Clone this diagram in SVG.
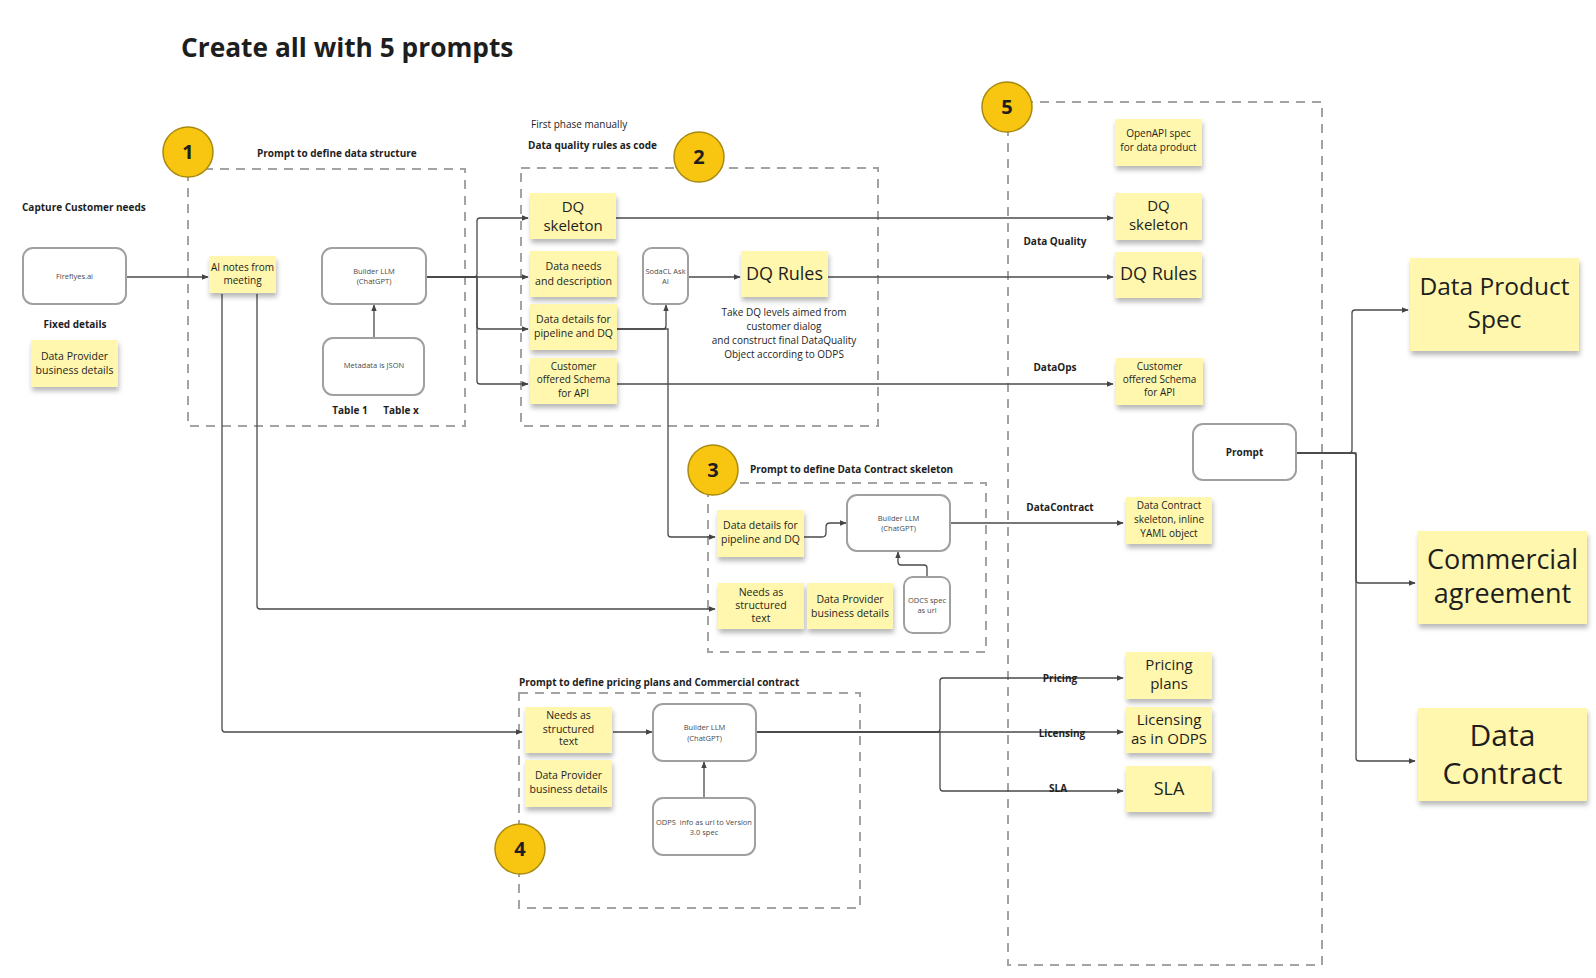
<svg xmlns="http://www.w3.org/2000/svg" width="1596" height="978" viewBox="0 0 1596 978">
<style>
text{font-family:"Open Sans","Liberation Sans",sans-serif;fill:#1e1e1e}
.b{font-weight:bold}
.t10{font-size:10px}
.t105{font-size:10.5px}
.t11{font-size:10.6px}
.t15{font-size:15px}
.t18{font-size:18px}
.sm{font-size:7.5px;fill:#4a4a4a}
.c{text-anchor:middle}
.sticky{fill:#FFF7AD;filter:url(#sh)}
.box{fill:#fff;stroke:#a0a0a0;stroke-width:2}
.dash{fill:none;stroke:#a3a3a3;stroke-width:2;stroke-dasharray:9 7}
.circ{fill:#F8C511;stroke:#A88A10;stroke-width:1.5}
.num{font-size:20px;font-weight:bold;text-anchor:middle}
.conn path{fill:none;stroke:#4a4a4a;stroke-width:1.3;marker-end:url(#ar)}
</style>
<defs>
<filter id="sh" x="-10%" y="-10%" width="120%" height="140%">
<feDropShadow dx="1" dy="4" stdDeviation="2.5" flood-color="#000" flood-opacity="0.28"/>
</filter>
<marker id="ar" viewBox="0 0 10 10" refX="9" refY="5" markerWidth="7" markerHeight="7" orient="auto" markerUnits="userSpaceOnUse">
<path d="M0,1 L10,5 L0,9 z" fill="#444"/>
</marker>
</defs>
<rect width="1596" height="978" fill="#fff"/>

<text id="title" x="181" y="57" class="b" style="font-size:26.3px">Create all with 5 prompts</text>

<!-- dashed containers -->
<g id="group1">
<rect class="dash" x="188" y="169" width="277" height="257"/>
<text x="257" y="157" class="b t10">Prompt to define data structure</text>
</g>
<g id="group2">
<rect class="dash" x="521" y="168" width="357" height="258"/>
<text x="531" y="128" class="t10">First phase manually</text>
<text x="528" y="149" class="b t10">Data quality rules as code</text>
</g>
<g id="group3">
<rect class="dash" x="708" y="483" width="278" height="169"/>
<text x="750" y="473" class="b t10">Prompt to define Data Contract skeleton</text>
</g>
<g id="group4">
<rect class="dash" x="519" y="693" width="341" height="215"/>
<text x="519" y="686" class="b t10">Prompt to define pricing plans and Commercial contract</text>
</g>
<g id="group5">
<rect class="dash" x="1008" y="102" width="314" height="863"/>
</g>

<!-- connectors -->
<g id="connectors" class="conn">
<path d="M126,277 H208"/>
<path d="M426,277 H474 Q477,277 477,274 V221 Q477,218 480,218 H528"/>
<path d="M426,277 H528"/>
<path d="M426,277 H477 V326 Q477,329 480,329 H528"/>
<path d="M426,277 H477 V381 Q477,384 480,384 H528"/>
<path d="M374,338 V305"/>
<path d="M616,218 H1113"/>
<path d="M828,277 H1113"/>
<path d="M617,384 H1113"/>
<path d="M688,277 H740"/>
<path d="M617,329 H663 Q666,329 666,326 V305"/>
<path d="M617,329 H668 V534 Q668,537 671,537 H715"/>
<path d="M257,294 V606 Q257,609 260,609 H715"/>
<path d="M222,294 V729 Q222,732 225,732 H522"/>
<path d="M804,537 H822 Q826,537 826,533 V527 Q826,523 830,523 H846"/>
<path d="M927,577 V568 Q927,565 924,565 H901 Q898,565 898,562 V552"/>
<path d="M950,523 H1123"/>
<path d="M613,732 H652"/>
<path d="M704,798 V762"/>
<path d="M756,732 H937 Q940,732 940,729 V681 Q940,678 943,678 H1123"/>
<path d="M756,732 H1123"/>
<path d="M756,732 H940 V788 Q940,791 943,791 H1123"/>
<path d="M1296,453 H1349 Q1352,453 1352,450 V313 Q1352,310 1355,310 H1408"/>
<path d="M1296,453 H1353 Q1356,453 1356,456 V580 Q1356,583 1359,583 H1415"/>
<path d="M1296,453 H1356 V758 Q1356,761 1359,761 H1415"/>
<text x="1055" y="245" class="b t10 c">Data Quality</text>
<text x="1055" y="371" class="b t10 c">DataOps</text>
<text x="1060" y="511" class="b t10 c">DataContract</text>
<text x="1060" y="682" class="b t10 c">Pricing</text>
<text x="1062" y="737" class="b t10 c">Licensing</text>
<text x="1058" y="792" class="b t10 c">SLA</text>
</g>

<!-- step circles -->
<g id="step1"><circle class="circ" cx="188" cy="152" r="25"/><text x="188" y="159" class="num">1</text></g>
<g id="step2"><circle class="circ" cx="699" cy="157" r="25"/><text x="699" y="164" class="num">2</text></g>
<g id="step3"><circle class="circ" cx="713" cy="470" r="25"/><text x="713" y="477" class="num">3</text></g>
<g id="step4"><circle class="circ" cx="520" cy="849" r="25"/><text x="520" y="856" class="num">4</text></g>
<g id="step5"><circle class="circ" cx="1007" cy="107" r="25"/><text x="1007" y="114" class="num">5</text></g>

<!-- left area -->
<g id="capture"><text x="22" y="211" class="b t10">Capture Customer needs</text></g>
<g id="fireflyes"><rect class="box" x="23" y="248" width="103" height="56" rx="10"/><text x="74.5" y="279" class="sm c">Fireflyes.ai</text></g>
<g id="fixed"><text x="75" y="328" class="b t10 c">Fixed details</text></g>
<g id="dp-left"><rect class="sticky" x="31" y="340" width="87" height="47"/><text class="t105 c"><tspan x="74.5" y="360">Data Provider</tspan><tspan x="74.5" y="374">business details</tspan></text></g>

<!-- group 1 nodes -->
<g id="ainotes"><rect class="sticky" x="209" y="256" width="67" height="37"/><text class="t10 c"><tspan x="242.5" y="271">AI notes from</tspan><tspan x="242.5" y="284">meeting</tspan></text></g>
<g id="builder1"><rect class="box" x="322" y="248" width="104" height="56" rx="10"/><text class="sm c"><tspan x="374" y="274">Builder LLM</tspan><tspan x="374" y="284">(ChatGPT)</tspan></text></g>
<g id="metadata"><rect class="box" x="323" y="338" width="101" height="57" rx="10"/><text x="374" y="368" class="sm c">Metadata is JSON</text></g>
<g id="tables"><text x="350" y="414" class="b t10 c">Table 1</text><text x="401" y="414" class="b t10 c">Table x</text></g>

<!-- group 2 nodes -->
<g id="dqskel2"><rect class="sticky" x="530" y="193" width="86" height="46"/><text class="t15 c"><tspan x="573" y="212">DQ</tspan><tspan x="573" y="231">skeleton</tspan></text></g>
<g id="dataneeds"><rect class="sticky" x="530" y="251" width="87" height="46"/><text class="t11 c"><tspan x="573.5" y="270">Data needs</tspan><tspan x="573.5" y="285">and description</tspan></text></g>
<g id="datadetails2"><rect class="sticky" x="530" y="304" width="87" height="46"/><text class="t105 c"><tspan x="573.5" y="323">Data details for</tspan><tspan x="573.5" y="337">pipeline and DQ</tspan></text></g>
<g id="custschema2"><rect class="sticky" x="530" y="358" width="87" height="46"/><text class="t10 c"><tspan x="573.5" y="370">Customer</tspan><tspan x="573.5" y="383">offered Schema</tspan><tspan x="573.5" y="397">for API</tspan></text></g>
<g id="sodacl"><rect class="box" x="643" y="248" width="45" height="56" rx="9"/><text class="sm c"><tspan x="665.5" y="274">SodaCL Ask</tspan><tspan x="665.5" y="284">AI</tspan></text></g>
<g id="dqrules2"><rect class="sticky" x="741" y="251" width="87" height="46"/><text x="784.5" y="280" class="t18 c">DQ Rules</text></g>
<g id="dqnote"><text class="t10 c"><tspan x="784" y="316">Take DQ levels aimed from</tspan><tspan x="784" y="330">customer dialog</tspan><tspan x="784" y="344">and construct final DataQuality</tspan><tspan x="784" y="358">Object according to ODPS</tspan></text></g>

<!-- group 3 nodes -->
<g id="datadetails3"><rect class="sticky" x="717" y="510" width="87" height="47"/><text class="t105 c"><tspan x="760.5" y="529">Data details for</tspan><tspan x="760.5" y="543">pipeline and DQ</tspan></text></g>
<g id="builder3"><rect class="box" x="847" y="495" width="103" height="56" rx="10"/><text class="sm c"><tspan x="898.5" y="521">Builder LLM</tspan><tspan x="898.5" y="531">(ChatGPT)</tspan></text></g>
<g id="needs3"><rect class="sticky" x="718" y="583" width="86" height="46"/><text class="t105 c"><tspan x="761" y="596">Needs as</tspan><tspan x="761" y="609">structured</tspan><tspan x="761" y="622">text</tspan></text></g>
<g id="dp3"><rect class="sticky" x="807" y="583" width="86" height="46"/><text class="t105 c"><tspan x="850" y="603">Data Provider</tspan><tspan x="850" y="617">business details</tspan></text></g>
<g id="odcs"><rect class="box" x="904" y="577" width="46" height="56" rx="9"/><text class="sm c"><tspan x="927" y="603">ODCS spec</tspan><tspan x="927" y="613">as url</tspan></text></g>

<!-- group 4 nodes -->
<g id="needs4"><rect class="sticky" x="525" y="707" width="87" height="46"/><text class="t105 c"><tspan x="568.5" y="719">Needs as</tspan><tspan x="568.5" y="733">structured</tspan><tspan x="568.5" y="745">text</tspan></text></g>
<g id="dp4"><rect class="sticky" x="525" y="760" width="87" height="47"/><text class="t105 c"><tspan x="568.5" y="779">Data Provider</tspan><tspan x="568.5" y="793">business details</tspan></text></g>
<g id="builder4"><rect class="box" x="653" y="704" width="103" height="57" rx="10"/><text class="sm c"><tspan x="704.5" y="730">Builder LLM</tspan><tspan x="704.5" y="741">(ChatGPT)</tspan></text></g>
<g id="odps"><rect class="box" x="653" y="798" width="102" height="57" rx="10"/><text class="sm c" xml:space="preserve"><tspan x="704" y="825">ODPS  info as url to Version</tspan><tspan x="704" y="835">3.0 spec</tspan></text></g>

<!-- group 5 nodes -->
<g id="openapi"><rect class="sticky" x="1115" y="119" width="87" height="47"/><text class="t10 c"><tspan x="1158.5" y="137">OpenAPI spec</tspan><tspan x="1158.5" y="151">for data product</tspan></text></g>
<g id="dqskel5"><rect class="sticky" x="1115" y="193" width="87" height="47"/><text class="t15 c"><tspan x="1158.5" y="211">DQ</tspan><tspan x="1158.5" y="230">skeleton</tspan></text></g>
<g id="dqrules5"><rect class="sticky" x="1115" y="252" width="87" height="46"/><text x="1158.5" y="280" class="t18 c">DQ Rules</text></g>
<g id="custschema5"><rect class="sticky" x="1116" y="358" width="87" height="47"/><text class="t10 c"><tspan x="1159.5" y="370">Customer</tspan><tspan x="1159.5" y="383">offered Schema</tspan><tspan x="1159.5" y="396">for API</tspan></text></g>
<g id="prompt"><rect class="box" x="1193" y="424" width="103" height="56" rx="10"/><text x="1244.5" y="456" class="b t10 c">Prompt</text></g>
<g id="dcskel"><rect class="sticky" x="1126" y="497" width="86" height="47"/><text class="t10 c"><tspan x="1169" y="509">Data Contract</tspan><tspan x="1169" y="523">skeleton, inline</tspan><tspan x="1169" y="537">YAML object</tspan></text></g>
<g id="pricing"><rect class="sticky" x="1126" y="652" width="86" height="47"/><text class="t15 c"><tspan x="1169" y="670">Pricing</tspan><tspan x="1169" y="689">plans</tspan></text></g>
<g id="licensing"><rect class="sticky" x="1126" y="707" width="86" height="46"/><text class="t15 c"><tspan x="1169" y="725">Licensing</tspan><tspan x="1169" y="744">as in ODPS</tspan></text></g>
<g id="sla"><rect class="sticky" x="1126" y="766" width="86" height="46"/><text x="1169" y="795" class="t18 c">SLA</text></g>

<!-- outputs -->
<g id="dps"><rect class="sticky" x="1410" y="258" width="169" height="93"/><text class="c" style="font-size:24.5px"><tspan x="1494.5" y="295">Data Product</tspan><tspan x="1494.5" y="328">Spec</tspan></text></g>
<g id="commercial"><rect class="sticky" x="1418" y="531" width="169" height="93"/><text class="c" style="font-size:27px"><tspan x="1502.5" y="569">Commercial</tspan><tspan x="1502.5" y="603">agreement</tspan></text></g>
<g id="datacontract"><rect class="sticky" x="1418" y="708" width="169" height="93"/><text class="c" style="font-size:30px"><tspan x="1502.5" y="746">Data</tspan><tspan x="1502.5" y="784">Contract</tspan></text></g>
</svg>
